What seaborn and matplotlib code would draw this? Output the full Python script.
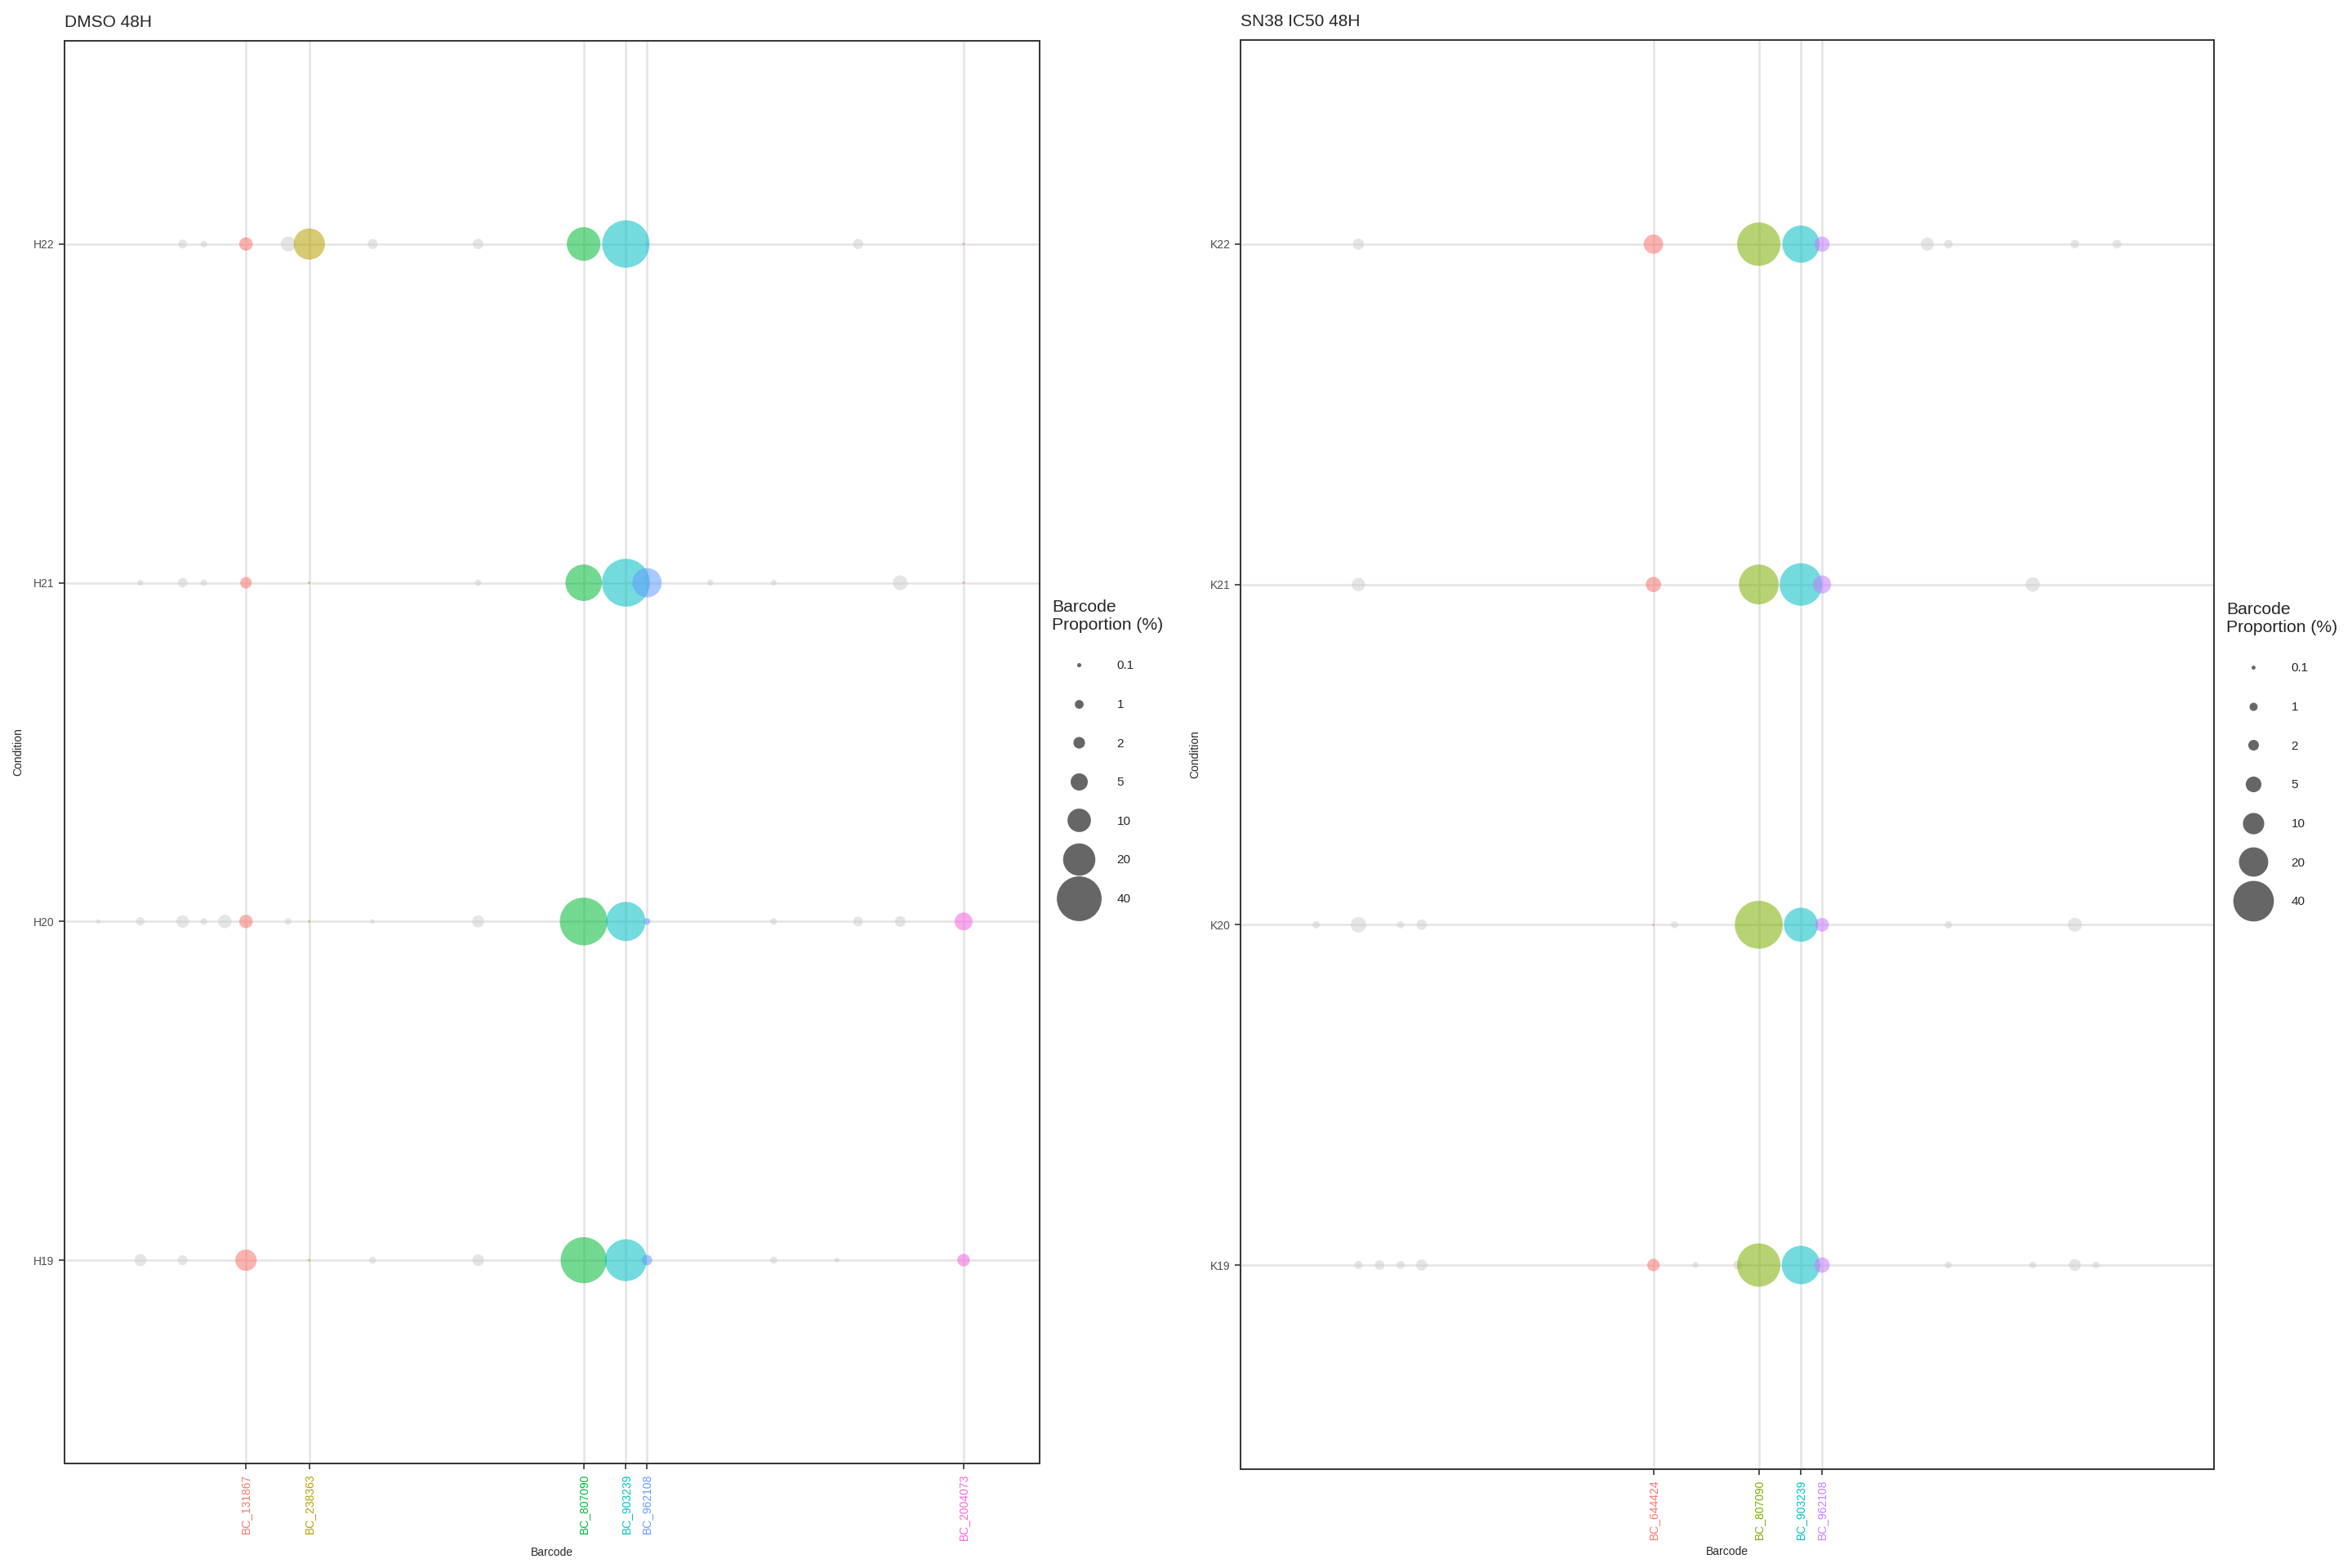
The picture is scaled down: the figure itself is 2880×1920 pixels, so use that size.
import numpy as np
import pandas as pd
import matplotlib.pyplot as plt
import seaborn as sns
from matplotlib.lines import Line2D

# --- Datos: posicion del barcode en el eje compartido (rango) y proporcion (%) ---
N_BARCODES = 46

dmso_conditions = ["H19", "H20", "H21", "H22"]
dmso_barcodes = ["BC_131867", "BC_238363", "BC_807090", "BC_903239", "BC_962108", "BC_2004073"]
dmso_barcode_pos = [8, 11, 24, 26, 27, 42]
dmso_colors = ["#F8766D", "#B79F00", "#00BA38", "#00BFC4", "#619CFF", "#F564E3"]

H19_pos = [3, 5, 8, 11, 14, 19, 24, 26, 27, 33, 36, 42]
H19_pct = [2.2, 1.34, 8.17, 0.005, 0.57, 2.06, 42.4, 34.8, 1.54, 0.57, 0.18, 2.42]
H20_pos = [1, 3, 5, 6, 7, 8, 10, 11, 14, 19, 24, 26, 27, 33, 37, 39, 42]
H20_pct = [0.12, 0.9, 2.42, 0.45, 2.82, 2.82, 0.45, 0.005, 0.15, 2.2, 45.6, 30.2, 0.45, 0.45, 1.34, 1.73, 5.46]
H21_pos = [3, 5, 6, 8, 11, 19, 24, 26, 27, 30, 33, 39, 42]
H21_pct = [0.34, 1.25, 0.4, 1.96, 0.005, 0.4, 25.9, 46.1, 16.3, 0.4, 0.3, 3.56, 0.005]
H22_pos = [5, 6, 8, 10, 11, 14, 19, 24, 26, 27, 37, 42]
H22_pct = [1.0, 0.45, 2.82, 3.56, 18.65, 1.42, 1.54, 21.9, 45.1, 0.005, 1.42, 0.005]

sn38_conditions = ["K19", "K20", "K21", "K22"]
sn38_barcodes = ["BC_644424", "BC_807090", "BC_903239", "BC_962108"]
sn38_barcode_pos = [19, 24, 26, 27]
sn38_colors = ["#F8766D", "#7CAE00", "#00BFC4", "#C77CFF"]

K19_pos = [5, 6, 7, 8, 19, 21, 23, 24, 26, 27, 33, 37, 39, 40]
K19_pct = [1.0, 1.6, 1.0, 2.23, 2.91, 0.41, 1.38, 45.9, 35.7, 4.84, 0.6, 0.6, 2.65, 0.54]
K20_pos = [3, 5, 7, 8, 19, 20, 24, 25, 26, 27, 33, 39]
K20_pct = [0.75, 4.84, 0.75, 1.96, 0.005, 0.68, 56.7, 0.05, 27.7, 3.74, 0.75, 3.89]
K21_pos = [5, 19, 24, 26, 27, 37]
K21_pct = [3.39, 4.67, 38.4, 44.1, 6.97, 4.1]
K22_pos = [5, 19, 24, 26, 27, 32, 33, 39, 41]
K22_pct = [2.23, 7.99, 45.9, 33.2, 4.67, 3.24, 1.2, 1.2, 1.2]

legend_values = [0.1, 1, 2, 5, 10, 20, 40]

# --- Estilo ---
sns.set_style("white")
plt.rcParams['font.family'] = ['Liberation Sans', 'DejaVu Sans']

DPI = 200
D_MIN, D_MAX = 2.5, 58.7     # diametro (px) para 0 y para el maximo de cada panel
ALPHA = 0.55
GREY = "#D0D0D0"
GRID = "#E4E4E4"
DARK = "#333333"


def diametro_pt(v, vmax):
    # escala de area tipo ggplot: diametro lineal en sqrt(v / vmax)
    return (D_MIN + (D_MAX - D_MIN) * np.sqrt(v / vmax)) * 72 / DPI


def armar_panel(conditions, pos_lists, pct_lists, hl_pos, hl_labels):
    filas = []
    for yi, (cond, pos, pct) in enumerate(zip(conditions, pos_lists, pct_lists)):
        for p, v in zip(pos, pct):
            lab = hl_labels[hl_pos.index(p)] if p in hl_pos else "Other"
            filas.append({"Condition": cond, "y": yi, "pos": p, "pct": v, "Barcode": lab})
    return pd.DataFrame(filas)


def dibujar_panel(ax, df, conditions, hl_pos, hl_labels, hl_colors, titulo):
    ax.set_xlim(-0.6, N_BARCODES - 1 + 0.6)
    ax.set_ylim(-0.6, len(conditions) - 1 + 0.6)
    for p in hl_pos:
        ax.axvline(p, color=GRID, lw=0.9, zorder=0)
    for yi in range(len(conditions)):
        ax.axhline(yi, color=GRID, lw=0.9, zorder=0)

    vmax = df["pct"].max()
    tabla_sizes = {v: diametro_pt(v, vmax) ** 2 for v in df["pct"].unique()}

    otros = df[df["Barcode"] == "Other"]
    sns.scatterplot(data=otros, x="pos", y="y", size="pct", sizes=tabla_sizes,
                    color=GREY, alpha=ALPHA, linewidth=0, legend=False, ax=ax, zorder=2)
    hl = df[df["Barcode"] != "Other"].sort_values("pos")
    sns.scatterplot(data=hl, x="pos", y="y", size="pct", sizes=tabla_sizes,
                    hue="Barcode", hue_order=hl_labels, palette=hl_colors,
                    alpha=ALPHA, linewidth=0, legend=False, ax=ax, zorder=3)

    ax.set_xticks(hl_pos)
    ax.set_xticklabels(hl_labels, rotation=90, fontsize=5)
    for lbl, c in zip(ax.get_xticklabels(), hl_colors):
        lbl.set_color(c)
    ax.set_yticks(range(len(conditions)))
    ax.set_yticklabels(conditions, fontsize=5, color="#4D4D4D")
    ax.tick_params(axis="both", length=2.5, width=0.6, color=DARK, pad=2,
                   bottom=True, left=True)
    for s in ax.spines.values():
        s.set_color(DARK)
        s.set_linewidth(0.7)
    ax.set_xlabel("Barcode", fontsize=5, labelpad=3)
    ax.set_ylabel("Condition", fontsize=5, labelpad=4)
    ax.set_title(titulo, loc="left", fontsize=7.5, pad=6)

    handles = [Line2D([], [], marker="o", ls="", color="#666666", markeredgewidth=0,
                      markersize=diametro_pt(v, vmax)) for v in legend_values]
    ax.legend(handles, [f"{v:g}" for v in legend_values],
              title="Barcode\nProportion (%)", loc="center left",
              bbox_to_anchor=(1.0126, 0.5), frameon=False, fontsize=5.5,
              title_fontsize=7.6, labelspacing=2.2, handlelength=4.3,
              handletextpad=0.9, borderpad=0, borderaxespad=0, alignment="left")


df_dmso = armar_panel(dmso_conditions, [H19_pos, H20_pos, H21_pos, H22_pos],
                      [H19_pct, H20_pct, H21_pct, H22_pct], dmso_barcode_pos, dmso_barcodes)
df_sn38 = armar_panel(sn38_conditions, [K19_pos, K20_pos, K21_pos, K22_pos],
                      [K19_pct, K20_pct, K21_pct, K22_pct], sn38_barcode_pos, sn38_barcodes)

fig = plt.figure(figsize=(14.4, 9.6), dpi=DPI)
ax1 = fig.add_axes([0.0274, 0.0667, 0.4146, 0.9073])
ax2 = fig.add_axes([0.5274, 0.0630, 0.4139, 0.9115])

dibujar_panel(ax1, df_dmso, dmso_conditions, dmso_barcode_pos, dmso_barcodes, dmso_colors, "DMSO 48H")
dibujar_panel(ax2, df_sn38, sn38_conditions, sn38_barcode_pos, sn38_barcodes, sn38_colors, "SN38 IC50 48H")

fig.savefig("out.png", dpi=DPI, facecolor="white")
